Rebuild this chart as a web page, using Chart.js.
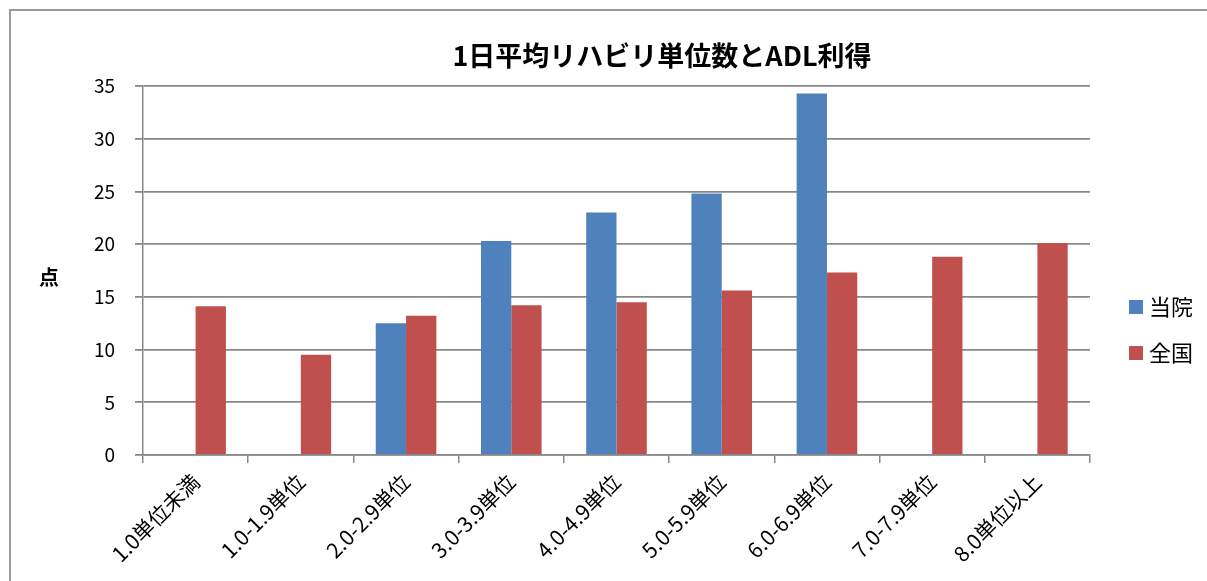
<!DOCTYPE html>
<html>
<head>
<meta charset="utf-8">
<script src="https://cdn.jsdelivr.net/npm/chart.js@4/dist/chart.umd.min.js"></script>
<style>
  html, body { margin: 0; padding: 0; background: #fff; }
  #wrap { position: relative; width: 1207px; height: 581px; overflow: hidden; }
  #frame { position: absolute; left: 9px; top: 9px; right: -5px; bottom: -5px;
           border-top: 2px solid #9a9a9a; border-left: 2px solid #9a9a9a; }
  canvas { position: absolute; left: 0; top: 0; }
</style>
</head>
<body>
<div id="wrap">
  <div id="frame"></div>
  <canvas id="myChart" width="1207" height="581"></canvas>
</div>
<script>
const categories = ['1.0単位未満', '1.0-1.9単位', '2.0-2.9単位', '3.0-3.9単位', '4.0-4.9単位',
  '5.0-5.9単位', '6.0-6.9単位', '7.0-7.9単位', '8.0単位以上'];
const touin = [null, null, 12.5, 20.3, 23.0, 24.8, 34.3, null, null];
const zenkoku = [14.1, 9.5, 13.2, 14.2, 14.5, 15.6, 17.3, 18.8, 20.1];
const seriesNames = ['当院', '全国'];
const seriesColors = ['#4F81BD', '#C0504D'];
const titleText = '1日平均リハビリ単位数とADL利得';
const yLabel = '点';

const font = '"Noto Sans CJK JP", "Noto Sans", sans-serif';

// title, y label and legend drawn at fixed spots like the original
const extras = {
  id: 'extras',
  afterDraw(chart) {
    const c = chart.ctx;
    c.save();
    c.fillStyle = '#000';
    c.textAlign = 'center';
    c.textBaseline = 'middle';
    c.font = 'bold 27px ' + font;
    c.fillText(titleText, 662, 56);
    c.font = 'bold 20px ' + font;
    c.fillText(yLabel, 49, 277);

    c.textAlign = 'left';
    c.font = '22px ' + font;
    chart.data.datasets.forEach((ds, i) => {
      const y = 307 + i * 46;
      c.fillStyle = ds.backgroundColor;
      c.fillRect(1129, y - 7, 14, 14);
      c.fillStyle = '#000';
      c.fillText(ds.label, 1149, y);
    });
    c.restore();
  }
};

new Chart(document.getElementById('myChart'), {
  type: 'bar',
  data: {
    labels: categories,
    datasets: [
      { label: seriesNames[0], data: touin, backgroundColor: seriesColors[0] },
      { label: seriesNames[1], data: zenkoku, backgroundColor: seriesColors[1] }
    ]
  },
  options: {
    responsive: false,
    animation: false,
    layout: { padding: { left: 12, right: 117, top: 86, bottom: 0 } },
    categoryPercentage: 0.576,
    barPercentage: 1,
    plugins: {
      legend: { display: false },
      title: { display: false },
      tooltip: { enabled: false }
    },
    scales: {
      x: {
        grid: { display: true, drawOnChartArea: false, offset: true, tickLength: 8,
                color: '#888', lineWidth: 1.5 },
        border: { color: '#888', width: 1.5 },
        ticks: { color: '#000', font: { family: font, size: 21 }, minRotation: 45, maxRotation: 45,
                 padding: 6 },
        afterFit(scale) { scale.height = 126; }
      },
      y: {
        min: 0,
        max: 35,
        ticks: { stepSize: 5, color: '#000', font: { family: font, size: 19 }, padding: 20 },
        grid: { color: '#888', lineWidth: 1.8, tickLength: 8 },
        border: { color: '#888', width: 1.5 },
        afterFit(scale) { scale.width = 131; }
      }
    }
  },
  plugins: [extras]
});
</script>
</body>
</html>
